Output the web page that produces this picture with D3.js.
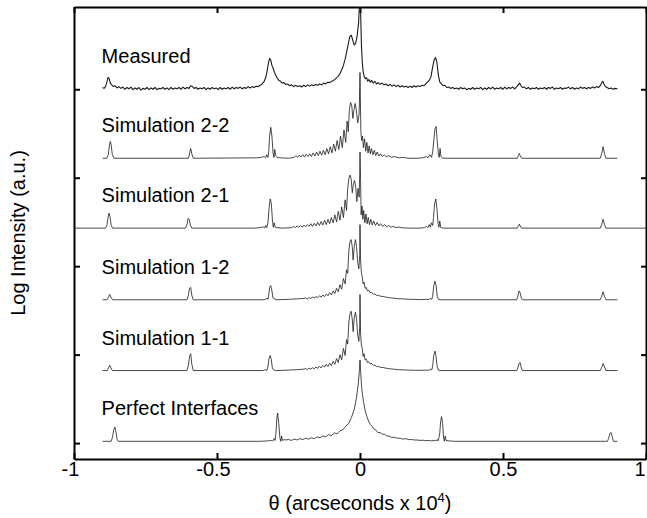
<!DOCTYPE html>
<html>
<head>
<meta charset="utf-8">
<script src="https://cdn.jsdelivr.net/npm/d3@7"></script>
<style>
  body { margin: 0; background: #fff; }
  svg { display: block; font-family: 'Liberation Sans', Arial, sans-serif; }
</style>
</head>
<body>
<svg></svg>
<script>
// curve names, top to bottom
const labels = ['Measured', 'Simulation 2-2', 'Simulation 2-1', 'Simulation 1-2', 'Simulation 1-1', 'Perfect Interfaces']
// vertical shift of every curve (log units)
const offsets = [4.0, 3.22, 2.43, 1.62, 0.82, 0.02]
const xTicks = [-1, -0.5, 0, 0.5, 1]
const yTicks = [0, 1, 2, 3, 4]

// [theta, log intensity above the curve's own baseline]
const measured = [
  [-0.9,0.02],[-0.895,0.01],[-0.89,0.03],[-0.885,0.08],[-0.881,0.135],[-0.877,0.12],[-0.873,0.07],[-0.868,0.05],[-0.862,0.03],[-0.856,0.04],
  [-0.85,0.015],[-0.843,0.03],[-0.836,0.01],[-0.829,0.025],[-0.822,0.0],[-0.815,0.02],[-0.808,0.005],[-0.801,0.025],[-0.794,-0.005],[-0.787,0.015],
  [-0.78,0.0],[-0.773,0.02],[-0.766,-0.01],[-0.759,0.01],[-0.752,0.0],[-0.745,0.02],[-0.738,-0.005],[-0.731,0.015],[-0.724,0.0],[-0.717,0.02],
  [-0.71,-0.005],[-0.703,0.01],[-0.696,0.005],[-0.689,0.02],[-0.682,0.0],[-0.675,0.015],[-0.668,-0.005],[-0.661,0.02],[-0.654,0.0],[-0.647,0.015],
  [-0.64,0.005],[-0.633,0.02],[-0.626,0.0],[-0.619,0.025],[-0.612,0.005],[-0.605,0.02],[-0.598,0.01],[-0.592,0.04],[-0.586,0.03],[-0.58,0.01],
  [-0.573,0.02],[-0.566,0.0],[-0.559,0.015],[-0.552,0.005],[-0.545,0.02],[-0.538,-0.005],[-0.531,0.015],[-0.524,0.0],[-0.517,0.02],[-0.51,0.005],
  [-0.503,0.015],[-0.496,-0.005],[-0.489,0.02],[-0.482,0.0],[-0.475,0.015],[-0.468,0.005],[-0.461,0.02],[-0.454,0.0],[-0.447,0.025],[-0.44,0.005],
  [-0.433,0.02],[-0.426,0.01],[-0.419,0.025],[-0.412,0.005],[-0.405,0.02],[-0.398,0.01],[-0.391,0.03],[-0.384,0.015],[-0.377,0.03],[-0.37,0.02],
  [-0.363,0.035],[-0.356,0.03],[-0.35,0.045],[-0.345,0.05],[-0.34,0.07],[-0.335,0.09],[-0.33,0.13],[-0.325,0.2],[-0.32,0.3],[-0.316,0.35],
  [-0.312,0.33],[-0.308,0.27],[-0.304,0.24],[-0.3,0.2],[-0.295,0.16],[-0.29,0.13],[-0.284,0.1],[-0.278,0.09],[-0.272,0.07],[-0.266,0.075],
  [-0.26,0.055],[-0.253,0.06],[-0.246,0.04],[-0.239,0.05],[-0.232,0.03],[-0.225,0.045],[-0.218,0.03],[-0.211,0.04],[-0.204,0.025],[-0.197,0.045],
  [-0.19,0.03],[-0.183,0.05],[-0.176,0.035],[-0.169,0.05],[-0.162,0.04],[-0.155,0.055],[-0.148,0.045],[-0.141,0.06],[-0.134,0.05],[-0.127,0.07],
  [-0.12,0.06],[-0.113,0.08],[-0.106,0.075],[-0.099,0.09],[-0.092,0.1],[-0.085,0.12],[-0.078,0.14],[-0.071,0.17],[-0.064,0.22],[-0.058,0.27],
  [-0.052,0.34],[-0.046,0.43],[-0.04,0.53],[-0.035,0.6],[-0.03,0.61],[-0.025,0.55],[-0.02,0.5],[-0.015,0.52],[-0.01,0.6],[-0.005,0.75],
  [-0.002,0.95],[0,1.1],[0.002,0.9],[0.005,0.5],[0.008,0.3],[0.011,0.2],[0.015,0.14],[0.019,0.12],[0.023,0.13],[0.027,0.09],
  [0.031,0.11],[0.036,0.08],[0.041,0.1],[0.046,0.07],[0.052,0.09],[0.058,0.06],[0.064,0.075],[0.07,0.055],[0.077,0.07],[0.084,0.05],
  [0.091,0.06],[0.098,0.04],[0.105,0.055],[0.112,0.035],[0.119,0.05],[0.126,0.03],[0.133,0.045],[0.14,0.025],[0.147,0.04],[0.154,0.025],
  [0.161,0.035],[0.168,0.02],[0.175,0.035],[0.182,0.02],[0.189,0.04],[0.196,0.025],[0.203,0.04],[0.21,0.03],[0.217,0.045],[0.224,0.04],
  [0.23,0.06],[0.236,0.08],[0.242,0.1],[0.248,0.14],[0.254,0.25],[0.259,0.33],[0.264,0.36],[0.269,0.3],[0.274,0.16],[0.279,0.08],
  [0.285,0.06],[0.291,0.04],[0.297,0.045],[0.303,0.02],[0.31,0.025],[0.317,0.01],[0.324,0.02],[0.331,0.005],[0.338,0.015],[0.345,0.0],
  [0.352,0.02],[0.359,0.005],[0.366,0.015],[0.373,-0.005],[0.38,0.01],[0.387,0.0],[0.394,0.02],[0.401,0.0],[0.408,0.015],[0.415,0.005],
  [0.422,0.02],[0.429,-0.005],[0.436,0.015],[0.443,0.0],[0.45,0.02],[0.457,0.005],[0.464,0.025],[0.471,0.0],[0.478,0.015],[0.485,0.005],
  [0.492,0.02],[0.499,0.0],[0.506,0.025],[0.513,0.005],[0.52,0.02],[0.527,0.01],[0.534,0.025],[0.541,0.005],[0.548,0.03],[0.553,0.05],
  [0.558,0.07],[0.563,0.04],[0.568,0.02],[0.575,0.025],[0.582,0.005],[0.589,0.02],[0.596,0.0],[0.603,0.015],[0.61,0.005],[0.617,0.02],
  [0.624,0.0],[0.631,0.015],[0.638,0.005],[0.645,0.02],[0.652,0.0],[0.659,0.02],[0.666,0.01],[0.673,0.025],[0.68,0.0],[0.687,0.015],
  [0.694,0.005],[0.701,0.02],[0.708,0.0],[0.715,0.015],[0.722,0.01],[0.729,0.025],[0.736,0.005],[0.743,0.02],[0.75,0.0],[0.757,0.015],
  [0.764,0.005],[0.771,0.025],[0.778,0.01],[0.785,0.02],[0.792,0.005],[0.799,0.02],[0.806,0.01],[0.813,0.025],[0.82,0.015],[0.827,0.03],
  [0.834,0.02],[0.84,0.04],[0.845,0.07],[0.849,0.09],[0.853,0.06],[0.858,0.03],[0.864,0.02],[0.871,0.005],[0.878,0.015],[0.885,0.0],
  [0.892,0.01],[0.9,0.005]
]

const sim22 = [
  [-0.9,0],[-0.885,0],[-0.88,0.04],[-0.876,0.15],[-0.873,0.19],[-0.87,0.15],[-0.866,0.04],[-0.86,0],
  [-0.6,0],[-0.596,0.05],[-0.592,0.11],[-0.588,0.05],[-0.583,0],
  [-0.36,0.005],[-0.345,0.01],[-0.335,0.02],[-0.33,0.005],[-0.326,0.04],[-0.322,0.01],[-0.319,0.08],[-0.316,0.25],[-0.312,0.35],[-0.308,0.25],
  [-0.304,0.06],[-0.301,0.01],[-0.298,0.1],[-0.295,0.03],[-0.29,0.01],[-0.28,0.005],[-0.25,0],
  [-0.23,0.01],[-0.224,0.03],[-0.218,0.01],[-0.212,0.035],[-0.206,0.015],[-0.2,0.04],[-0.194,0.015],[-0.188,0.045],[-0.182,0.02],[-0.176,0.05],
  [-0.17,0.02],[-0.164,0.06],[-0.158,0.025],[-0.152,0.07],[-0.146,0.03],[-0.14,0.08],[-0.134,0.035],[-0.128,0.09],[-0.122,0.04],[-0.116,0.11],
  [-0.11,0.05],[-0.104,0.13],[-0.098,0.06],[-0.092,0.16],[-0.086,0.08],[-0.08,0.2],[-0.074,0.1],[-0.068,0.25],[-0.062,0.12],[-0.056,0.32],
  [-0.05,0.18],[-0.045,0.42],[-0.041,0.3],[-0.037,0.55],[-0.033,0.63],[-0.029,0.6],[-0.025,0.45],[-0.021,0.55],[-0.017,0.62],[-0.013,0.55],
  [-0.008,0.4],[-0.003,0.5],[0,0.97],[0.003,0.3],[0.006,0.2],[0.009,0.25],[0.012,0.12],[0.016,0.22],[0.02,0.08],[0.024,0.18],
  [0.028,0.06],[0.032,0.14],[0.036,0.05],[0.04,0.11],[0.045,0.04],[0.05,0.09],[0.055,0.03],[0.06,0.07],[0.066,0.025],[0.072,0.05],
  [0.078,0.02],[0.085,0.04],[0.092,0.015],[0.1,0.03],[0.11,0.01],[0.12,0.02],[0.135,0.005],[0.15,0.01],[0.17,0],
  [0.2,0],[0.22,0.005],[0.232,0.02],[0.238,0.005],[0.244,0.04],[0.25,0.01],[0.254,0.07],[0.258,0.2],[0.262,0.33],[0.266,0.36],
  [0.27,0.2],[0.274,0.05],[0.277,0.01],[0.28,0.11],[0.283,0.02],[0.29,0],
  [0.55,0],[0.554,0.03],[0.557,0.055],[0.56,0.03],[0.565,0],
  [0.84,0],[0.845,0.05],[0.85,0.13],[0.855,0.05],[0.86,0],[0.9,0]
]

const sim21 = [
  [-1,0],[-0.89,0],[-0.885,0.03],[-0.881,0.12],[-0.878,0.17],[-0.874,0.13],[-0.87,0.03],[-0.865,0],
  [-0.61,0],[-0.605,0.04],[-0.601,0.11],[-0.597,0.1],[-0.593,0.03],[-0.588,0],
  [-0.37,0],[-0.35,0.005],[-0.338,0.015],[-0.334,0],[-0.33,0.03],[-0.326,0.005],[-0.322,0.06],[-0.318,0.22],[-0.314,0.33],[-0.31,0.28],
  [-0.306,0.08],[-0.303,0.01],[-0.3,0.06],[-0.296,0.01],[-0.29,0.005],[-0.27,0],
  [-0.24,0.005],[-0.232,0.02],[-0.226,0.005],[-0.22,0.025],[-0.214,0.01],[-0.208,0.03],[-0.202,0.01],[-0.196,0.035],[-0.19,0.015],[-0.184,0.04],
  [-0.178,0.02],[-0.172,0.05],[-0.166,0.02],[-0.16,0.055],[-0.154,0.025],[-0.148,0.065],[-0.142,0.03],[-0.136,0.075],[-0.13,0.035],[-0.124,0.09],
  [-0.118,0.04],[-0.112,0.1],[-0.106,0.05],[-0.1,0.12],[-0.094,0.06],[-0.088,0.15],[-0.082,0.07],[-0.076,0.19],[-0.07,0.09],[-0.064,0.24],
  [-0.058,0.12],[-0.052,0.32],[-0.047,0.2],[-0.043,0.45],[-0.039,0.56],[-0.035,0.6],[-0.031,0.56],[-0.027,0.4],[-0.023,0.5],[-0.019,0.54],
  [-0.015,0.46],[-0.011,0.3],[-0.007,0.45],[-0.003,0.35],[-0.001,0.6],[0,0.86],[0.002,0.55],[0.004,0.15],[0.007,0.25],[0.01,0.1],
  [0.013,0.2],[0.017,0.06],[0.021,0.16],[0.025,0.05],[0.029,0.12],[0.033,0.04],[0.038,0.1],[0.043,0.035],[0.048,0.08],[0.054,0.03],
  [0.06,0.065],[0.066,0.025],[0.072,0.05],[0.079,0.02],[0.086,0.04],[0.093,0.015],[0.1,0.03],[0.108,0.01],[0.116,0.02],[0.126,0.005],
  [0.136,0.012],[0.15,0.003],[0.17,0],
  [0.21,0],[0.225,0.005],[0.232,0.02],[0.237,0.005],[0.242,0.04],[0.246,0.01],[0.25,0.06],[0.254,0.03],[0.257,0.12],[0.261,0.28],
  [0.265,0.33],[0.269,0.22],[0.273,0.05],[0.276,0.01],[0.279,0.08],[0.282,0.01],[0.29,0],
  [0.55,0],[0.554,0.025],[0.557,0.045],[0.56,0.025],[0.565,0],
  [0.84,0],[0.845,0.04],[0.85,0.1],[0.855,0.04],[0.86,0],[1,0]
]

const sim12 = [
  [-0.9,0],[-0.885,0],[-0.879,0.03],[-0.875,0.06],[-0.871,0.03],[-0.865,0],
  [-0.605,0],[-0.6,0.05],[-0.596,0.13],[-0.592,0.14],[-0.588,0.05],[-0.583,0],
  [-0.34,0],[-0.33,0.005],[-0.325,0.02],[-0.322,0.005],[-0.319,0.06],[-0.316,0.14],[-0.312,0.16],[-0.308,0.1],[-0.304,0.02],[-0.3,0.01],[-0.29,0],
  [-0.25,0.005],[-0.22,0.01],[-0.2,0.015],[-0.19,0.02],[-0.184,0.01],[-0.178,0.025],[-0.172,0.015],[-0.166,0.03],[-0.16,0.02],[-0.154,0.035],
  [-0.148,0.025],[-0.142,0.045],[-0.136,0.03],[-0.13,0.055],[-0.124,0.035],[-0.118,0.065],[-0.112,0.045],[-0.106,0.08],[-0.1,0.055],[-0.094,0.1],
  [-0.088,0.07],[-0.082,0.13],[-0.076,0.09],[-0.07,0.17],[-0.064,0.12],[-0.058,0.24],[-0.052,0.18],[-0.047,0.34],[-0.043,0.3],[-0.039,0.55],
  [-0.035,0.66],[-0.031,0.68],[-0.027,0.6],[-0.024,0.45],[-0.02,0.6],[-0.016,0.68],[-0.012,0.6],[-0.008,0.42],[-0.004,0.35],[-0.001,0.5],
  [0,0.85],[0.002,0.45],[0.005,0.3],[0.008,0.26],[0.011,0.18],[0.014,0.2],[0.018,0.13],[0.022,0.14],[0.026,0.1],[0.03,0.11],
  [0.035,0.08],[0.04,0.085],[0.046,0.065],[0.052,0.065],[0.058,0.05],[0.065,0.05],[0.072,0.04],[0.08,0.038],[0.09,0.03],[0.1,0.025],
  [0.11,0.02],[0.12,0.018],[0.135,0.012],[0.15,0.01],[0.17,0.006],[0.19,0.004],[0.21,0.002],[0.23,0.005],[0.24,0.003],[0.247,0.015],
  [0.251,0.005],[0.254,0.04],[0.258,0.16],[0.262,0.21],[0.266,0.16],[0.27,0.04],[0.274,0.005],[0.28,0],
  [0.548,0],[0.552,0.04],[0.556,0.1],[0.56,0.08],[0.564,0.02],[0.568,0],
  [0.84,0],[0.845,0.04],[0.85,0.09],[0.855,0.04],[0.86,0],[0.9,0]
]

const sim11 = [
  [-0.9,0],[-0.884,0],[-0.879,0.03],[-0.875,0.06],[-0.871,0.03],[-0.866,0],
  [-0.605,0],[-0.6,0.06],[-0.596,0.16],[-0.592,0.19],[-0.588,0.07],[-0.583,0],
  [-0.34,0],[-0.33,0.01],[-0.326,0],[-0.322,0.04],[-0.318,0.14],[-0.314,0.17],[-0.31,0.12],[-0.306,0.02],[-0.3,0.005],[-0.29,0],
  [-0.25,0.005],[-0.22,0.01],[-0.2,0.015],[-0.19,0.02],[-0.184,0.012],[-0.178,0.028],[-0.172,0.016],[-0.166,0.032],[-0.16,0.02],[-0.154,0.04],
  [-0.148,0.025],[-0.142,0.048],[-0.136,0.03],[-0.13,0.058],[-0.124,0.038],[-0.118,0.07],[-0.112,0.045],[-0.106,0.085],[-0.1,0.055],[-0.094,0.105],
  [-0.088,0.07],[-0.082,0.135],[-0.076,0.09],[-0.07,0.18],[-0.064,0.12],[-0.058,0.25],[-0.052,0.17],[-0.047,0.35],[-0.043,0.3],[-0.039,0.55],
  [-0.035,0.64],[-0.031,0.67],[-0.027,0.58],[-0.024,0.44],[-0.02,0.6],[-0.016,0.66],[-0.012,0.58],[-0.008,0.4],[-0.004,0.33],[-0.001,0.5],
  [0,0.86],[0.002,0.42],[0.005,0.28],[0.008,0.25],[0.011,0.16],[0.014,0.19],[0.018,0.12],[0.022,0.13],[0.026,0.09],[0.03,0.1],
  [0.035,0.075],[0.04,0.08],[0.046,0.06],[0.052,0.06],[0.058,0.045],[0.065,0.045],[0.072,0.035],[0.08,0.035],[0.09,0.027],[0.1,0.022],
  [0.11,0.018],[0.12,0.015],[0.135,0.01],[0.15,0.008],[0.17,0.005],[0.19,0.003],[0.21,0.002],[0.23,0.005],[0.24,0.003],[0.247,0.015],
  [0.251,0.005],[0.254,0.05],[0.258,0.17],[0.262,0.22],[0.266,0.16],[0.27,0.04],[0.274,0.005],[0.28,0],
  [0.548,0],[0.552,0.03],[0.556,0.08],[0.56,0.09],[0.564,0.03],[0.568,0],
  [0.84,0],[0.845,0.035],[0.85,0.08],[0.855,0.04],[0.86,0],[0.9,0]
]

const perfect = [
  [-0.9,0],[-0.87,0],[-0.866,0.04],[-0.861,0.13],[-0.857,0.16],[-0.853,0.1],[-0.849,0.02],[-0.845,0],
  [-0.35,0],[-0.32,0.005],[-0.31,0.01],[-0.305,0.005],[-0.3,0.03],[-0.297,0.01],[-0.294,0.08],[-0.291,0.25],[-0.288,0.32],[-0.284,0.2],
  [-0.28,0.04],[-0.277,0],[-0.274,0.06],[-0.271,0.01],[-0.265,0.02],
  [-0.26,0.015],[-0.25,0.02],[-0.24,0.01],[-0.23,0.025],[-0.22,0.015],[-0.21,0.03],[-0.2,0.02],[-0.19,0.035],[-0.18,0.025],[-0.17,0.04],
  [-0.16,0.03],[-0.15,0.05],[-0.14,0.04],[-0.13,0.06],[-0.12,0.05],[-0.11,0.075],[-0.1,0.065],[-0.09,0.095],[-0.08,0.085],[-0.07,0.12],
  [-0.06,0.13],[-0.05,0.17],[-0.04,0.2],[-0.03,0.27],[-0.02,0.36],[-0.012,0.5],[-0.006,0.65],[-0.002,0.8],[0,0.92],[0.002,0.8],
  [0.006,0.6],[0.012,0.45],[0.018,0.35],[0.024,0.28],[0.03,0.23],[0.036,0.19],[0.042,0.17],[0.048,0.14],[0.055,0.13],[0.062,0.1],
  [0.07,0.1],[0.078,0.08],[0.086,0.08],[0.094,0.06],[0.102,0.06],[0.11,0.045],[0.12,0.045],[0.13,0.035],[0.14,0.035],[0.15,0.025],
  [0.16,0.03],[0.17,0.02],[0.18,0.02],[0.19,0.015],[0.2,0.015],[0.21,0.01],[0.22,0.012],[0.23,0.008],[0.24,0.01],[0.25,0.005],
  [0.26,0.01],[0.266,0.005],[0.27,0.02],[0.273,0.005],[0.276,0.04],[0.279,0.1],[0.282,0.22],[0.285,0.28],[0.289,0.2],[0.292,0.05],
  [0.295,0],[0.298,0.06],[0.301,0.01],[0.31,0.005],[0.33,0],
  [0.865,0],[0.869,0.03],[0.874,0.09],[0.878,0.1],[0.882,0.05],[0.886,0],[0.9,0]
]

const curves = [measured, sim22, sim21, sim12, sim11, perfect]

const width = 647
const height = 518
const plotLeft = 74
const plotRight = 646
const plotTop = 7
const plotBottom = 459

let svg = d3.select('svg').attr('width', width).attr('height', height)

let scX = d3.scaleLinear().domain([-1, 1]).range([plotLeft, plotRight])
let scY = d3.scaleLinear().domain([-0.18, 4.93]).range([plotBottom, plotTop])

function styleAxis (g) {
  g.selectAll('.domain').attr('stroke', '#000').attr('stroke-width', 2)
  g.selectAll('.tick line').attr('stroke', '#000').attr('stroke-width', 2)
  g.attr('font-family', "'Liberation Sans', Arial, sans-serif").attr('font-size', 20)
}

function createAxis () {
  // bottom axis with labels, ticks point inward
  svg.append('g')
    .attr('transform', `translate(0, ${plotBottom})`)
    .call(d3.axisBottom(scX).tickValues(xTicks).tickSizeInner(-6).tickSizeOuter(0)
      .tickPadding(3).tickFormat(d => String(d)))
    .call(styleAxis)
    .selectAll('text')
    .attr('fill', '#000')
    // last label would fall off the right edge
    .attr('text-anchor', d => d === 1 ? 'end' : 'middle')
    .attr('dx', d => d < 0 ? -4 : (d === 1 ? -1 : 0))

  svg.append('g')
    .attr('transform', `translate(0, ${plotTop})`)
    .call(d3.axisTop(scX).tickValues(xTicks).tickSizeInner(-6).tickSizeOuter(0).tickFormat(''))
    .call(styleAxis)

  svg.append('g')
    .attr('transform', `translate(${plotLeft}, 0)`)
    .call(d3.axisLeft(scY).tickValues(yTicks).tickSizeInner(-6).tickSizeOuter(0).tickFormat(''))
    .call(styleAxis)

  svg.append('g')
    .attr('transform', `translate(${plotRight}, 0)`)
    .call(d3.axisRight(scY).tickValues(yTicks).tickSizeInner(-5).tickSizeOuter(0).tickFormat(''))
    .call(styleAxis)

  // axis titles
  let xt = svg.append('text')
    .attr('x', (plotLeft + plotRight) / 2)
    .attr('y', 510)
    .attr('text-anchor', 'middle')
    .attr('font-size', 20)
  xt.append('tspan').text('\u03b8 (arcseconds x 10')
  xt.append('tspan').attr('font-size', 13).attr('dy', -8).text('4')
  xt.append('tspan').attr('dy', 8).text(')')

  svg.append('text')
    .attr('transform', `translate(25, ${(plotTop + plotBottom) / 2}) rotate(-90)`)
    .attr('text-anchor', 'middle')
    .attr('font-size', 20)
    .text('Log Intensity (a.u.)')
}

function drawCurves () {
  svg.append('clipPath').attr('id', 'plot-clip')
    .append('rect')
    .attr('x', plotLeft).attr('y', plotTop)
    .attr('width', plotRight - plotLeft).attr('height', plotBottom - plotTop)

  let plot = svg.append('g').attr('clip-path', 'url(#plot-clip)')

  curves.forEach((data, i) => {
    let line = d3.line()
      .x(d => scX(d[0]))
      .y(d => scY(offsets[i] + d[1]))
    plot.append('path')
      .datum(data)
      .attr('d', line)
      .attr('fill', 'none')
      .attr('stroke', '#1a1a1a')
      // the measured trace is noisy and looks heavier
      .attr('stroke-width', i === 0 ? 1.1 : 0.8)
      .attr('stroke-linejoin', 'round')
  })

  // curve names sit a bit above each baseline
  labels.forEach((name, i) => {
    svg.append('text')
      .attr('x', scX(-0.9) - 1)
      .attr('y', scY(offsets[i]) - 26)
      .attr('font-size', 20)
      .text(name)
  })
}

createAxis()
drawCurves()
</script>
</body>
</html>
